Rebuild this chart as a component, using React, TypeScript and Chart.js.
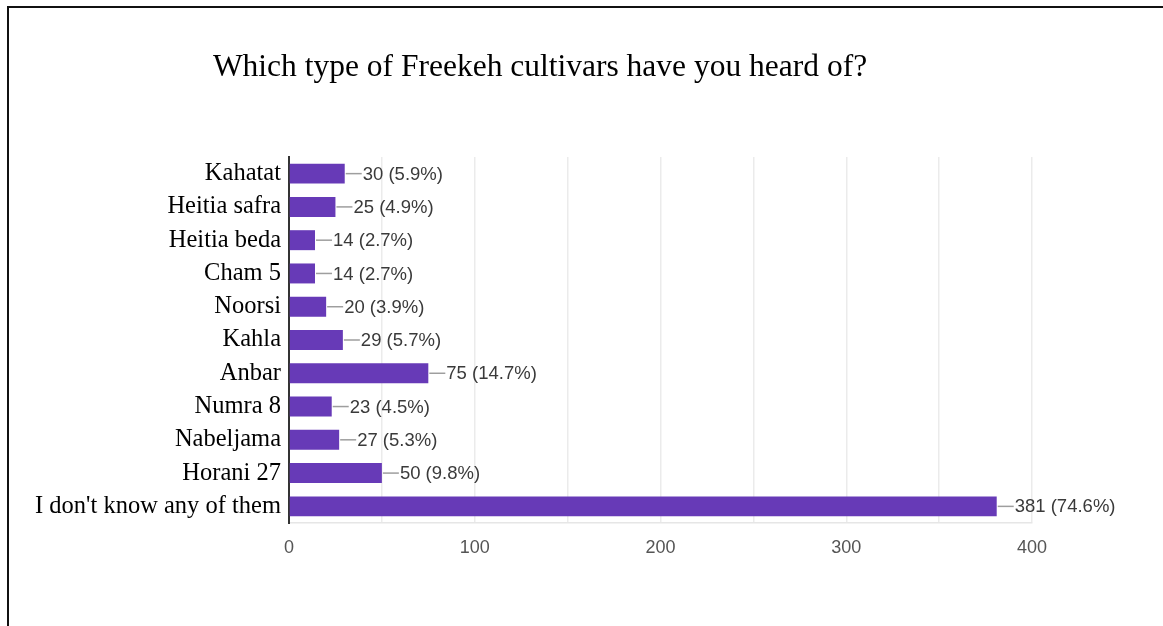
import React, { useEffect, useRef } from "react";
import { Chart, registerables } from "chart.js";

Chart.register(...registerables);

const titleText = "Which type of Freekeh cultivars have you heard of?";
const categories = [
  "Kahatat",
  "Heitia safra",
  "Heitia beda",
  "Cham 5",
  "Noorsi",
  "Kahla",
  "Anbar",
  "Numra 8",
  "Nabeljama",
  "Horani 27",
  "I don't know any of them",
];
const counts = [30, 25, 14, 14, 20, 29, 75, 23, 27, 50, 381];
const percents = ["5.9%", "4.9%", "2.7%", "2.7%", "3.9%", "5.7%", "14.7%", "4.5%", "5.3%", "9.8%", "74.6%"];
const xMax = 400;
const xStep = 50;
const xLabelStep = 100;

const barLabelPlugin = {
  id: "barLabels",
  afterDatasetsDraw(chart: any) {
    const ctx = chart.ctx;
    const meta = chart.getDatasetMeta(0);
    ctx.save();
    ctx.font = "18.5px 'Liberation Sans', Arial, sans-serif";
    ctx.textBaseline = "middle";
    ctx.textAlign = "left";
    meta.data.forEach((bar: any, i: number) => {
      const x = bar.x;
      const y = bar.y;
      ctx.strokeStyle = "#9e9e9e";
      ctx.lineWidth = 1.5;
      ctx.beginPath();
      ctx.moveTo(x + 1, y);
      ctx.lineTo(x + 17, y);
      ctx.stroke();
      ctx.fillStyle = "#3a3a3a";
      ctx.fillText(`${counts[i]} (${percents[i]})`, x + 18, y + 1);
    });
    ctx.restore();
  },
};

const titlePlugin = {
  id: "customTitle",
  afterDraw(chart: any) {
    const ctx = chart.ctx;
    ctx.save();
    ctx.font = "31.5px 'Liberation Serif', 'Times New Roman', serif";
    ctx.fillStyle = "#000";
    ctx.textAlign = "center";
    ctx.textBaseline = "middle";
    ctx.fillText(titleText, 540, 68);
    ctx.restore();
  },
};

export default function App() {
  const canvasRef = useRef<HTMLCanvasElement | null>(null);

  useEffect(() => {
    if (!canvasRef.current) return;
    const chart = new Chart(canvasRef.current, {
      type: "bar",
      data: {
        labels: categories,
        datasets: [
          {
            data: counts,
            backgroundColor: "#673ab7",
            borderWidth: 0,
            categoryPercentage: 0.75,
            barPercentage: 0.8,
          },
        ],
      },
      plugins: [barLabelPlugin, titlePlugin],
      options: {
        indexAxis: "y",
        responsive: false,
        animation: false,
        layout: { padding: { left: 0, right: 131, top: 157, bottom: 0 } },
        plugins: {
          legend: { display: false },
          tooltip: { enabled: false },
          title: { display: false },
        },
        scales: {
          x: {
            min: 0,
            max: xMax,
            afterFit(scale: any) {
              scale.height = 103;
            },
            ticks: {
              stepSize: xStep,
              padding: 14,
              color: "#555",
              font: { family: "'Liberation Sans', Arial, sans-serif", size: 18 },
              callback: (v: any) => (Number(v) % xLabelStep === 0 ? String(v) : ""),
              maxRotation: 0,
              autoSkip: false,
            },
            grid: { color: "#ebebeb", lineWidth: 1.5, drawTicks: false },
            border: { display: true, color: "#e6e6e6", width: 1.5 },
          },
          y: {
            afterFit(scale: any) {
              scale.width = 289;
            },
            ticks: {
              color: "#000",
              padding: 8,
              font: { family: "'Liberation Serif', 'Times New Roman', serif", size: 24.5 },
              autoSkip: false,
            },
            grid: { display: false, drawTicks: false },
            border: { display: true, color: "#333", width: 2 },
          },
        },
      },
    });
    return () => chart.destroy();
  }, []);

  return (
    <div
      style={{
        position: "absolute",
        left: 0,
        top: 0,
        width: 1163,
        height: 626,
        background: "#fff",
        overflow: "hidden",
      }}
    >
      <canvas ref={canvasRef} width={1163} height={626} style={{ position: "absolute", left: 0, top: 0 }} />
      <div
        style={{
          position: "absolute",
          left: 7,
          top: 6,
          width: 1163,
          height: 626,
          borderLeft: "2px solid #111",
          borderTop: "2px solid #111",
          boxSizing: "border-box",
          pointerEvents: "none",
        }}
      />
    </div>
  );
}
